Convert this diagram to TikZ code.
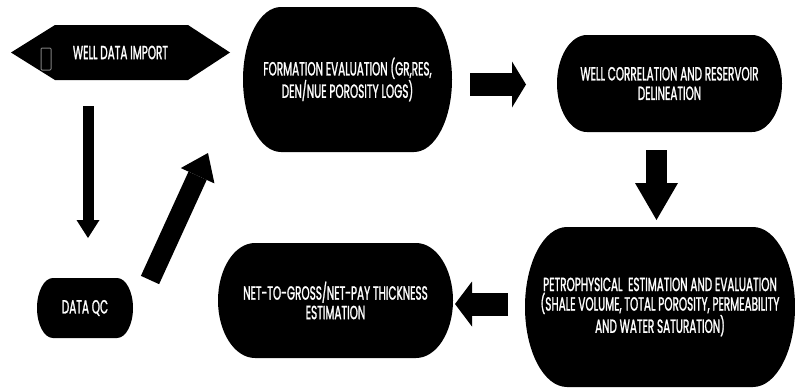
\documentclass[tikz,border=0pt]{standalone}
\usepackage{fontspec}
\setmainfont{Poppins}[FakeStretch=0.55,FakeBold=1.3]
\usetikzlibrary{arrows.meta,calc,backgrounds}
\newcommand\pillfill[3]{%
  \fill ([xshift=#2pt]#1.north west) -- ([xshift=-#2pt]#1.north east)
    arc[start angle=90,end angle=-90,x radius=#2pt,y radius=#3pt]
    -- ([xshift=#2pt]#1.south west)
    arc[start angle=270,end angle=90,x radius=#2pt,y radius=#3pt] -- cycle;}
\begin{document}
\begin{tikzpicture}[x=1pt,y=-1pt,
  box/.style={inner sep=0pt,outer sep=0pt,text=white,align=center,
    font=\fontsize{19}{19.5}\selectfont},
  barrow/.style n args={3}{line width=#1pt,
    -{Triangle[length=#3pt,width=#2pt,line width=0pt]}},
]
\useasboundingbox (0,0) rectangle (795,388);
% nodes
\node[box,minimum width=219pt,minimum height=55pt] (wdi) at (120.5,52.5) {WELL DATA IMPORT};
\node[box,minimum width=209pt,minimum height=145pt] (fe) at (347.5,79.5)
  {FORMATION EVALUATION (GR,RES,\\DEN/NUE POROSITY LOGS)};
\node[box,minimum width=225pt,minimum height=97pt] (wc) at (669.5,83.5)
  {WELL CORRELATION AND RESERVOIR\\DELINEATION};
\node[box,minimum width=270pt,minimum height=160pt] (petro) at (660,307)
  {PETROPHYSICAL\ \ ESTIMATION AND EVALUATION\\(SHALE VOLUME, TOTAL POROSITY, PERMEABILITY\\AND WATER SATURATION)};
\node[box,minimum width=235pt,minimum height=115pt] (ntg) at (335.5,300.5)
  {NET-TO-GROSS/NET-PAY THICKNESS\\ESTIMATION};
\node[box,minimum width=96pt,minimum height=60pt] (qc) at (85,308) {DATA QC};
% shapes
\begin{scope}[on background layer]
  \fill[white] (0,0) rectangle (795,388);
  \fill (wdi.west) -- ([xshift=44pt]wdi.north west) -- ([xshift=-42pt]wdi.north east)
    -- (wdi.east) -- ([xshift=-42pt]wdi.south east) -- ([xshift=44pt]wdi.south west) -- cycle;
  \pillfill{fe}{38}{72.5}
  \pillfill{wc}{30}{48.5}
  \pillfill{petro}{42}{80}
  \pillfill{ntg}{37}{57.5}
  \pillfill{qc}{16}{30}
\end{scope}
\draw[gray,line width=1pt,rounded corners=1pt] (41,48) rectangle (51,70);
% arrows
\draw[barrow={11}{23}{18}] ([shift={(-32.5,26)}]wdi.south) -- ([shift={(3,-40)}]qc.north);
\draw[barrow={20}{37}{25}] ([shift={(17,-28)}]qc.east) -- ([shift={(-35,1)}]fe.south west);
\draw[barrow={23}{46}{14}] ([shift={(18,5)}]fe.east) -- ([shift={(-31,1)}]wc.west);
\draw[barrow={21}{43}{37}] ([shift={(-13,18)}]wc.south) -- ([shift={(-3.5,-7)}]petro.north);
\draw[barrow={23}{45}{17}] ([shift={(-17,-3)}]petro.west) -- ([shift={(2,3.5)}]ntg.east);
\end{tikzpicture}
\end{document}
